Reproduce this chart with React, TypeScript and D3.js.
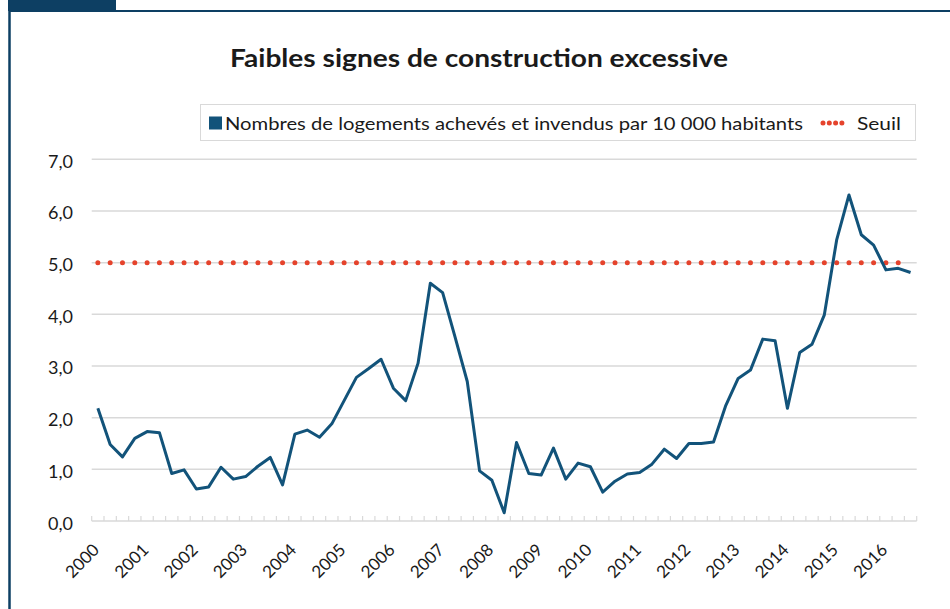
import React from "react";
import * as d3 from "d3";

const years = [2000, 2001, 2002, 2003, 2004, 2005, 2006, 2007, 2008, 2009, 2010, 2011, 2012, 2013, 2014, 2015, 2016];
const quarterNames = ["T1", "T2", "T3", "T4"];
const lastYearQuarters = 3;

const values = [
  2.18, 1.48, 1.24, 1.6, 1.73, 1.71, 0.92, 0.99, 0.62, 0.66, 1.04, 0.81, 0.86, 1.06, 1.23, 0.7,
  1.68, 1.76, 1.62, 1.88, 2.33, 2.78, 2.95, 3.13, 2.57, 2.33, 3.05, 4.6, 4.42, 3.57, 2.7, 0.97,
  0.79, 0.16, 1.52, 0.92, 0.89, 1.41, 0.81, 1.12, 1.05, 0.56, 0.77, 0.91, 0.94, 1.1, 1.39, 1.21,
  1.5, 1.5, 1.53, 2.24, 2.76, 2.92, 3.52, 3.49, 2.18, 3.26, 3.42, 3.99, 5.44, 6.31, 5.54, 5.34,
  4.86, 4.89, 4.81,
];
const threshold = 5;
const yTicks = [0, 1, 2, 3, 4, 5, 6, 7];

const title = "Faibles signes de construction excessive";
const seriesName = "Nombres de logements achevés et invendus par 10 000 habitants";
const thresholdName = "Seuil";

const categories: string[] = [];
years.forEach((y, yi) => {
  const n = yi === years.length - 1 ? lastYearQuarters : 4;
  for (let q = 0; q < n; q++) categories.push(`${y}-${quarterNames[q]}`);
});

const W = 950;
const H = 609;
const FONT = "Lato, 'Open Sans', sans-serif";
const BLUE = "#12537a";
const RED = "#e5432c";
const GRID = "#d9d9d9";
const FRAME = "#0d3f63";

export default function App() {
  const x = d3.scaleBand<string>().domain(categories).range([91.7, 916.7]).padding(0);
  const y = d3.scaleLinear().domain([0, 7]).range([521, 159.3]);
  const cx = (c: string) => (x(c) as number) + x.bandwidth() / 2;

  const line = d3
    .line<number>()
    .x((_, i) => cx(categories[i]))
    .y((d) => y(d));

  const thrLine = d3
    .line<string>()
    .x((c) => cx(c))
    .y(() => y(threshold));

  const tickPositions = categories.map((c) => x(c) as number).concat([x.range()[1]]);

  return (
    <svg
      width={W}
      height={H}
      style={{ position: "absolute", left: 0, top: 0, display: "block", background: "#fff" }}
      fontFamily={FONT}
    >
      {/* frame */}
      <rect x={8} y={0} width={108} height={11} fill={FRAME} />
      <line x1={9.5} y1={10} x2={9.5} y2={H} stroke={FRAME} strokeWidth={2.5} />
      <line x1={9} y1={11} x2={W} y2={11} stroke={FRAME} strokeWidth={2} />

      {/* title */}
      <text
        x={230}
        y={66.5}
        fontSize={24}
        fontWeight="bold"
        fill="#1a1a1a"
        textLength={498}
        lengthAdjust="spacingAndGlyphs"
      >
        {title}
      </text>

      {/* legend */}
      <rect x={200.5} y={104.5} width={715} height={36} fill="#fff" stroke={GRID} strokeWidth={1} />
      <rect x={209} y={116.5} width={13} height={13} fill={BLUE} />
      <text x={225} y={130} fontSize={18} fill="#1a1a1a" textLength={578} lengthAdjust="spacingAndGlyphs">
        {seriesName}
      </text>
      <line
        x1={823}
        x2={848}
        y1={123}
        y2={123}
        stroke={RED}
        strokeWidth={5}
        strokeLinecap="round"
        strokeDasharray="0 6.3"
      />
      <text x={857} y={130} fontSize={18} fill="#1a1a1a" textLength={44} lengthAdjust="spacingAndGlyphs">
        {thresholdName}
      </text>

      {/* grid */}
      {yTicks.slice(1).map((t) => (
        <line key={t} x1={91.7} x2={916.7} y1={y(t)} y2={y(t)} stroke={GRID} strokeWidth={1.5} />
      ))}
      {/* x axis */}
      <line x1={91.7} x2={916.7} y1={y(0)} y2={y(0)} stroke={GRID} strokeWidth={1.5} />
      {tickPositions.map((p, i) => (
        <line key={i} x1={p} x2={p} y1={y(0)} y2={y(0) - 5} stroke={GRID} strokeWidth={1.2} />
      ))}

      {/* y labels */}
      {yTicks.map((t) => (
        <text key={t} x={73} y={y(t) + 8.5} textAnchor="end" fontSize={18} fill="#1a1a1a">
          {d3.format(".1f")(t).replace(".", ",")}
        </text>
      ))}

      {/* x labels */}
      {years.map((yr) => {
        const c = `${yr}-T1`;
        const px = cx(c) + 2.5;
        const py = 551;
        return (
          <text
            key={yr}
            x={px}
            y={py}
            textAnchor="end"
            fontSize={17}
            fill="#1a1a1a"
            transform={`rotate(-45 ${px} ${py})`}
          >
            {yr}
          </text>
        );
      })}

      {/* threshold */}
      <path
        d={thrLine(categories) || ""}
        fill="none"
        stroke={RED}
        strokeWidth={5}
        strokeLinecap="round"
        strokeDasharray={`0 ${x.bandwidth()}`}
      />
      {/* series */}
      <path d={line(values) || ""} fill="none" stroke={BLUE} strokeWidth={3} strokeLinejoin="round" />
    </svg>
  );
}
